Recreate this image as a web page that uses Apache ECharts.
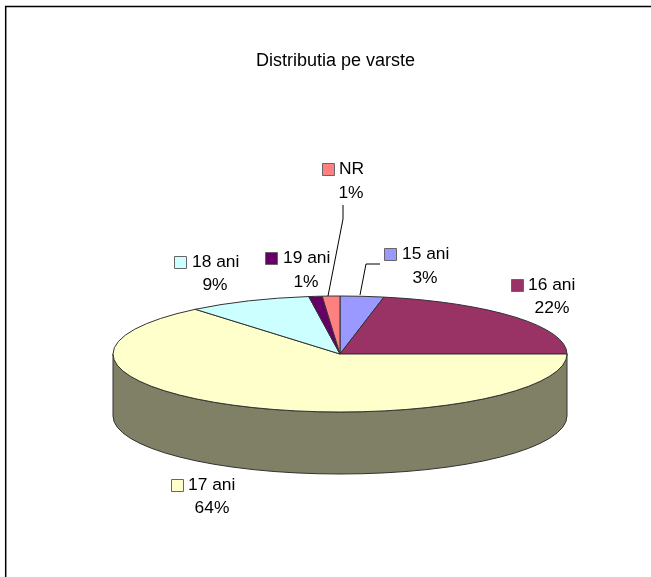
<!DOCTYPE html>
<html><head><meta charset="utf-8">
<style>html,body{margin:0;padding:0;background:#fff}#c{width:651px;height:577px}</style>
<script src="https://cdn.jsdelivr.net/npm/echarts@6/dist/echarts.min.js"></script>
</head><body><div id="c"></div>
<script>
const categories = ['15 ani','16 ani','17 ani','18 ani','19 ani','NR'];
const values = [3.1,21.9,64,8.8,0.95,1.25];
const colors = ['#9999FF','#993366','#FFFFCC','#CCFFFF','#660066','#FF8080'];
const sideColors = ['#4D4D80','#4D1A33','#808066','#668080','#330033','#804040'];
const title = 'Distributia pe varste';
const keyPos = [[384,248],[511,279],[171,479],[174,256],[265,252],[322,163]];
const namePos = [[402,254],[528,285],[188,485],[192,262],[283,258],[339,169]];
const pctPos = [[425,278],[552,308],[212,508],[215,285],[306,282],[351,193]];
const leaders = [[[380,264],[366,264],[360,295]],null,null,null,null,[[343,205],[343,219],[328,296]]];
const FONT = 'Liberation Sans';
const LABEL_FONT = '17.4px "'+FONT+'"';
const cx=340, cy=354, rx=227, ry=58, depth=62;
const total = values.reduce((a,b)=>a+b,0);
const fracStart = values.map((_,i)=>values.slice(0,i).reduce((a,b)=>a+b,0)/total);
const pt=(f,dy)=>{const t=f*2*Math.PI;return [cx+rx*Math.sin(t),cy-ry*Math.cos(t)+(dy||0)];};
function arc(f0,f1,dy,rev){
  const b=rev?f0:f1,p=pt(b,dy),large=Math.abs(f1-f0)>0.5?1:0,sweep=rev?0:1;
  return `A${rx} ${ry} 0 ${large} ${sweep} ${p[0]} ${p[1]}`;
}
function renderItem(params,api){
  const i=params.dataIndex, f0=fracStart[i], f1=f0+values[i]/total;
  const children=[];
  const s0=Math.max(f0,0.25), s1=Math.min(f1,0.75);
  if(s1>s0){
    const a=pt(s0),c=pt(s1,depth);
    children.push({type:'path',z2:1,shape:{pathData:`M${a[0]} ${a[1]} ${arc(s0,s1,0)} L${c[0]} ${c[1]} ${arc(s0,s1,depth,true)} Z`},
      style:{fill:sideColors[i],stroke:'#333',lineWidth:1}});
  }
  const a=pt(f0);
  children.push({type:'path',z2:2,shape:{pathData:`M${cx} ${cy} L${a[0]} ${a[1]} ${arc(f0,f1,0)} Z`},
    style:{fill:colors[i],stroke:'#333',lineWidth:1,lineJoin:'round'}});
  const pct=Math.round(values[i]/total*100)+'%';
  children.push({type:'text',z2:5,style:{x:namePos[i][0],y:namePos[i][1],text:categories[i],font:LABEL_FONT,fill:'#000',align:'left',verticalAlign:'middle'}});
  children.push({type:'text',z2:5,style:{x:pctPos[i][0],y:pctPos[i][1],text:pct,font:LABEL_FONT,fill:'#000',align:'center',verticalAlign:'middle'}});
  children.push({type:'rect',z2:5,shape:{x:keyPos[i][0]+.5,y:keyPos[i][1]+.5,width:12,height:12},style:{fill:colors[i],stroke:'#666',lineWidth:1}});
  if(leaders[i]) children.push({type:'polyline',z2:4,shape:{points:leaders[i]},style:{fill:null,stroke:'#000',lineWidth:1}});
  return {type:'group',children};
}
const chart=echarts.init(document.getElementById('c'),null,{renderer:'canvas'});
chart.setOption({
  animation:false,
  backgroundColor:'#fff',
  title:{text:title,left:330.5,top:47,textAlign:'center',textStyle:{fontFamily:FONT,fontSize:18,fontWeight:'normal',color:'#000'}},
  graphic:[{type:'polyline',shape:{points:[[5.7,577],[5.7,6.4],[651,6.4]]},style:{fill:null,stroke:'#000',lineWidth:1.5}}],
  series:[{type:'custom',coordinateSystem:'none',renderItem,data:categories.map((n,i)=>({name:n,value:values[i]}))}]
});
</script></body></html>
